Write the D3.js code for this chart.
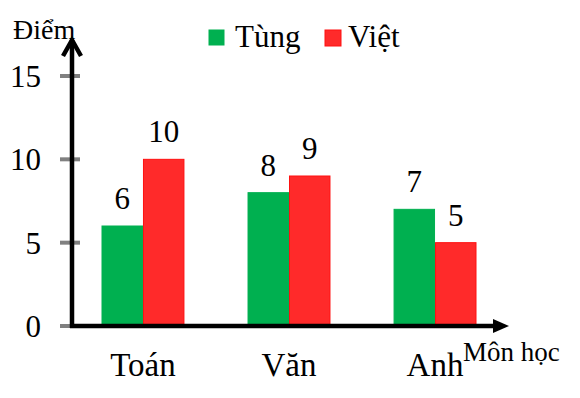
<!DOCTYPE html>
<html>
<head>
<meta charset="utf-8">
<script src="https://cdn.jsdelivr.net/npm/d3@7"></script>
<style>
  body { margin: 0; background: #fff; }
  svg text { font-family: "Liberation Serif", "Times New Roman", "DejaVu Serif", serif; fill: #000; }
</style>
</head>
<body>
<div id="chart"></div>
<script>
// Data
const subjects = ["Toán", "Văn", "Anh"];
const seriesNames = ["Tùng", "Việt"];
const tungScores = [6, 8, 7];
const vietScores = [10, 9, 5];
const yTicks = [0, 5, 10, 15];

const colors = { "Tùng": "#00b050", "Việt": "#ff2a2a" };
const strokes = { "Tùng": "#00b050", "Việt": "#ff1010" };

const W = 580, H = 398;
const svg = d3.select("#chart").append("svg")
  .attr("width", W)
  .attr("height", H);

const x0 = 72, yBase = 326;

const x = d3.scaleBand()
  .domain(subjects)
  .range([72, 506])
  .paddingInner(0.432)
  .paddingOuter(0.202);

const xs = d3.scaleBand()
  .domain(seriesNames)
  .range([0, x.bandwidth()]);

const y = d3.scaleLinear()
  .domain([0, 15])
  .range([yBase, 76]);

const rows = subjects.map((s, i) => ({ subject: s, "Tùng": tungScores[i], "Việt": vietScores[i] }));

// Bars
const groups = svg.append("g").selectAll("g")
  .data(rows)
  .join("g")
  .attr("transform", d => `translate(${x(d.subject)},0)`);

groups.selectAll("rect")
  .data(d => seriesNames.map(k => ({ key: k, value: d[k] })))
  .join("rect")
  .attr("x", d => xs(d.key) + 0.5)
  .attr("y", d => y(d.value))
  .attr("width", xs.bandwidth() - 1)
  .attr("height", d => yBase - y(d.value))
  .attr("fill", d => colors[d.key])
  .attr("stroke", d => strokes[d.key])
  .attr("stroke-width", 1);

// value labels
groups.selectAll("text")
  .data(d => seriesNames.map(k => ({ key: k, value: d[k] })))
  .join("text")
  .attr("x", d => xs(d.key) + xs.bandwidth() / 2)
  .attr("y", d => y(d.value) - 17)
  .attr("text-anchor", "middle")
  .style("font-size", "31px")
  .text(d => d.value);

// Y ticks (gray marks)
svg.append("g").selectAll("line")
  .data(yTicks)
  .join("line")
  .attr("x1", 60).attr("x2", 80)
  .attr("y1", d => y(d)).attr("y2", d => y(d))
  .attr("stroke", "#808080")
  .attr("stroke-width", 4);

svg.append("g").selectAll("text")
  .data(yTicks)
  .join("text")
  .attr("x", 41)
  .attr("y", d => y(d) + 11)
  .attr("text-anchor", "end")
  .style("font-size", "31px")
  .text(d => d);

// Axes with arrows
svg.append("line")
  .attr("x1", x0).attr("y1", yBase + 2)
  .attr("x2", x0).attr("y2", 40)
  .attr("stroke", "#000").attr("stroke-width", 4.5);
svg.append("path")
  .attr("d", `M${x0 - 9},${56} L${x0},${40} L${x0 + 9},${56}`)
  .attr("fill", "none").attr("stroke", "#000").attr("stroke-width", 4.5)
  .attr("stroke-linejoin", "miter");

svg.append("line")
  .attr("x1", x0 - 2).attr("y1", yBase)
  .attr("x2", 500).attr("y2", yBase)
  .attr("stroke", "#000").attr("stroke-width", 4.5);
svg.append("path")
  .attr("d", `M493,${yBase - 7} L509,${yBase} L493,${yBase + 7} Z`)
  .attr("fill", "#000");

// X category labels
svg.append("g").selectAll("text")
  .data(subjects)
  .join("text")
  .attr("x", d => x(d) + x.bandwidth() / 2)
  .attr("y", 376)
  .attr("text-anchor", "middle")
  .style("font-size", "33px")
  .text(d => d);

// Axis titles
svg.append("text")
  .attr("x", 13).attr("y", 39)
  .style("font-size", "28px")
  .text("Điểm");

svg.append("text")
  .attr("x", 463).attr("y", 361)
  .style("font-size", "27px")
  .text("Môn học");

// Legend
const legend = svg.append("g");
const legendX = [209, 325];
seriesNames.forEach((n, i) => {
  legend.append("rect")
    .attr("x", legendX[i]).attr("y", 30)
    .attr("width", i ? 16 : 15).attr("height", i ? 16 : 15)
    .attr("fill", colors[n])
    .attr("stroke", strokes[n]).attr("stroke-width", 1);
  legend.append("text")
    .attr("x", legendX[i] + (i ? 23 : 26)).attr("y", 47)
    .style("font-size", "31px")
    .text(n);
});
</script>
</body>
</html>
